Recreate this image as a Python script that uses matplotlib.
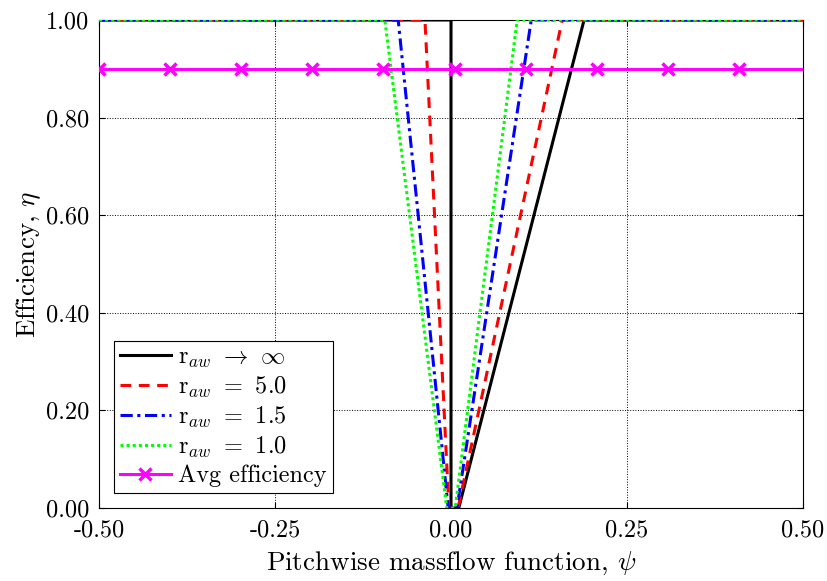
import matplotlib
matplotlib.use("Agg")
import numpy as np
import matplotlib.pyplot as plt

plt.rcParams['font.family'] = 'serif'
plt.rcParams['font.serif'] = ['cmr10']
plt.rcParams['mathtext.fontset'] = 'cm'
plt.rcParams['axes.unicode_minus'] = False

## efficiency curves (psi, eta)
psi_inf = [-0.5, 0.0, 0.0, 0.011, 0.189, 0.5]
eta_inf = [1.0, 1.0, 0.0, 0.0, 1.0, 1.0]

psi_50 = [-0.5, -0.037, -0.003, 0.010, 0.158, 0.5]
eta_50 = [1.0, 1.0, 0.0, 0.0, 1.0, 1.0]

psi_15 = [-0.5, -0.075, -0.004, 0.0085, 0.114, 0.5]
eta_15 = [1.0, 1.0, 0.0, 0.0, 1.0, 1.0]

psi_10 = [-0.5, -0.094, -0.006, 0.006, 0.094, 0.5]
eta_10 = [1.0, 1.0, 0.0, 0.0, 1.0, 1.0]

avg_eta = 0.9
psi_avg = np.linspace(-0.5, 0.5, 100)

xticks = [-0.5, -0.25, 0.0, 0.25, 0.5]
xtick_labels = ["-0.50", "-0.25", "0.00", "0.25", "0.50"]
yticks = [0.0, 0.2, 0.4, 0.6, 0.8, 1.0]
ytick_labels = ["0.00", "0.20", "0.40", "0.60", "0.80", "1.00"]

fig = plt.figure(figsize=(8.27, 5.81), dpi=100)
ax = fig.add_axes([0.1197, 0.1256, 0.8513, 0.8400])

ax.plot(psi_inf, eta_inf, color="black", lw=2.2, ls="-", label=r"r$_{aw}$ $\rightarrow$ $\infty$")
ax.plot(psi_50, eta_50, color="red", lw=2.2, ls=(0, (3.5, 2.5)), label=r"r$_{aw}$ $=$ 5.0")
ax.plot(psi_15, eta_15, color="blue", lw=2.2, ls=(0, (4, 1.5, 1, 1.5)), label=r"r$_{aw}$ $=$ 1.5")
ax.plot(psi_10, eta_10, color="#00ff00", lw=2.2, ls=(0, (1, 1)), label=r"r$_{aw}$ $=$ 1.0")
ax.plot(psi_avg, np.full_like(psi_avg, avg_eta), color="magenta", lw=2.2,
        marker="x", markevery=10, markersize=9, markeredgewidth=2.5, label="Avg efficiency")

ax.set_xlim(-0.5, 0.5)
ax.set_ylim(0, 1)
ax.set_xticks(xticks)
ax.set_xticklabels(xtick_labels)
ax.set_yticks(yticks)
ax.set_yticklabels(ytick_labels)
ax.tick_params(direction="in", top=True, right=True, labelsize=17.5, length=4)
ax.tick_params(axis="x", pad=8)
ax.tick_params(axis="y", pad=7)
ax.grid(True, color="black", ls=":", lw=0.7)
for sp in ax.spines.values():
    sp.set_zorder(1)
ax.set_xlabel(r"Pitchwise massflow function, $\psi$", fontsize=19.5, labelpad=6)
ax.set_ylabel(r"Efficiency, $\eta$", fontsize=19.5, labelpad=2)

leg = ax.legend(loc="lower left", fontsize=17.5, handlelength=2.1, fancybox=False,
                framealpha=1, edgecolor="black", borderaxespad=0.6,
                labelspacing=0.2, handletextpad=0.3, borderpad=0.25)
leg.get_frame().set_linewidth(0.8)

fig.savefig("out.png", dpi=100)
